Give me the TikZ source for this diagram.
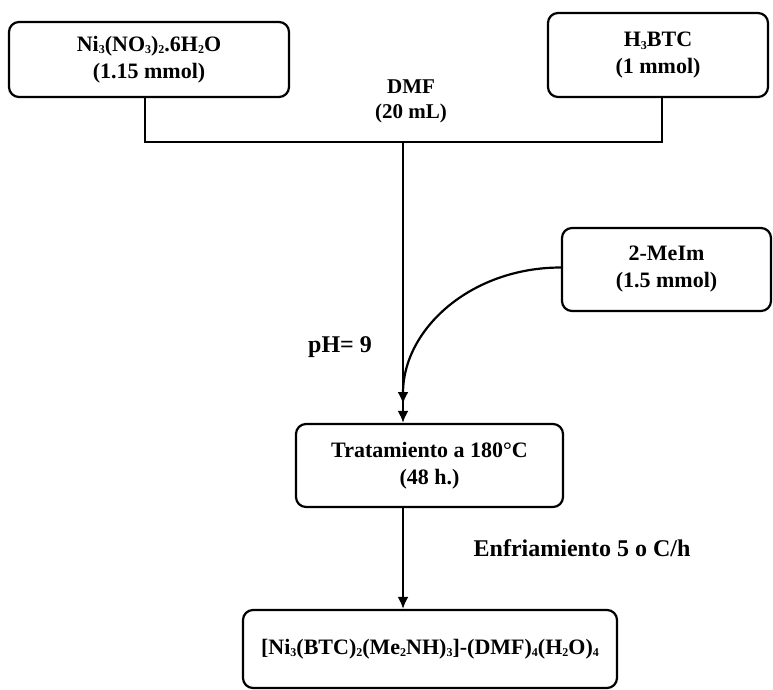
\documentclass[tikz,border=0pt]{standalone}
\usepackage{fontspec}
\setmainfont{Liberation Serif}
\usetikzlibrary{arrows.meta}
\newcommand{\sbs}[1]{\raisebox{-0.12em}{\fontsize{12}{12}\selectfont #1}}
\begin{document}
\begin{tikzpicture}[x=1pt,y=-1pt,
  box/.style={draw, line width=2.2pt, rounded corners=10pt, align=center, inner sep=0pt,
    font=\fontsize{22}{27}\selectfont\bfseries},
  lbl/.style={font=\fontsize{24}{28}\selectfont\bfseries, inner sep=0pt, align=center},
  conn/.style={line width=2.2pt},
  arr/.style={conn, -{Latex[length=12pt,width=11pt]}}]
\useasboundingbox (0,0) rectangle (773,690);
\node[box, minimum width=280pt, minimum height=75pt] (A) at (149,59.5)
  {Ni\sbs{3}(NO\sbs{3})\sbs{2}.6H\sbs{2}O\\(1.15 mmol)};
\node[box, minimum width=220pt, minimum height=84pt] (B) at (658,55)
  {H\sbs{3}BTC\\(1 mmol)};
\node[box, minimum width=209pt, minimum height=83pt] (D) at (666.5,269.5)
  {2-MeIm\\(1.5 mmol)};
\node[box, minimum width=267pt, minimum height=83pt] (C) at (429.5,465.5)
  {Tratamiento a 180°C\\(48 h.)};
\node[box, minimum width=374pt, minimum height=78pt] (E) at (430,649)
  {[Ni\sbs{3}(BTC)\sbs{2}(Me\sbs{2}NH)\sbs{3}]-(DMF)\sbs{4}(H\sbs{2}O)\sbs{4}};
\node[font=\fontsize{21}{25}\selectfont\bfseries, align=center, inner sep=0pt] (dmf) at (411,101) {DMF\\(20 mL)};
\node[lbl] (ph) at (340,347) {pH= 9};
\node[lbl] (enf) at (582,548) {Enfriamiento 5 o C/h};
\coordinate (j) at (403,142);
\coordinate (m) at (403,404);
\draw[conn] ([xshift=-4pt]A.south) |- (j);
\draw[conn] ([xshift=4pt]B.south) |- (j);
\draw[arr] (j) -- (j |- C.north);
\draw[arr] ([yshift=2pt]D.west) .. controls +(-90,0) and +(0,-75) .. (m);
\draw[arr] (C.south -| j) -- (E.north -| j);
\end{tikzpicture}
\end{document}
